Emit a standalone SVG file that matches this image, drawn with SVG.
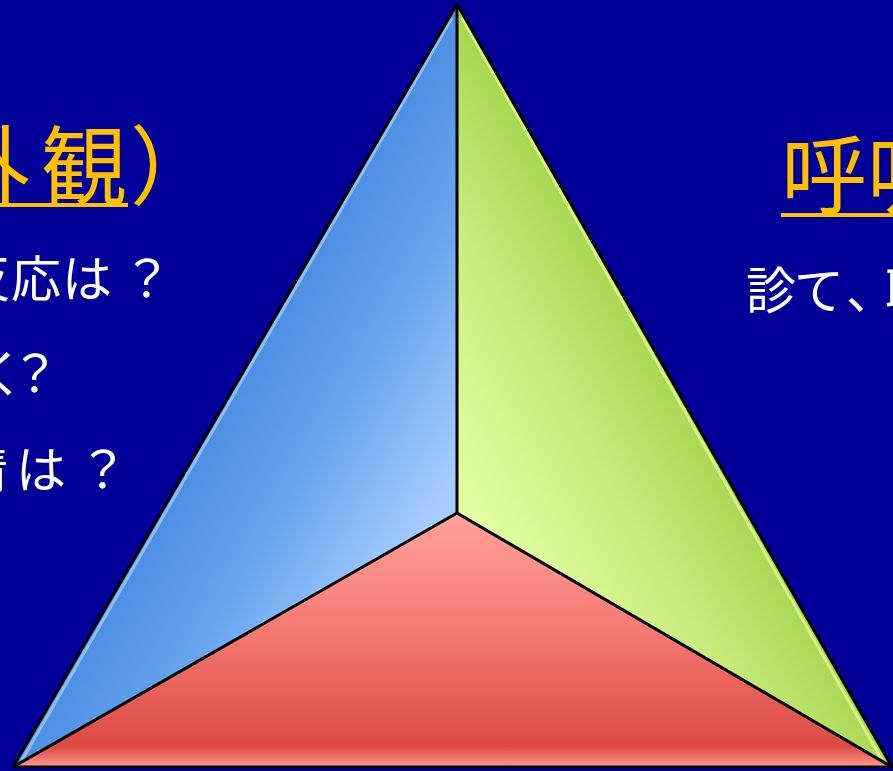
<svg xmlns="http://www.w3.org/2000/svg" width="893" height="771" viewBox="0 0 893 771">
  <style>
    .head { font-family: "Noto Sans CJK JP", "Noto Sans", sans-serif; font-size: 86px; fill: #FFC000; }
    .body { font-family: "Noto Sans CJK JP", "Noto Sans", sans-serif; font-size: 50px; fill: #FFFFFF; }
    .edge { fill: none; stroke: #000000; stroke-width: 3; stroke-linejoin: round; }
    .uline { fill: #FFC000; }
  </style>
  <defs>
    <linearGradient id="gBlue" gradientUnits="userSpaceOnUse" x1="235" y1="385" x2="440" y2="505">
      <stop offset="0" stop-color="#4c8ee2"/>
      <stop offset="0.45" stop-color="#6aa6ee"/>
      <stop offset="1" stop-color="#a8ccff"/>
    </linearGradient>
    <linearGradient id="gGreen" gradientUnits="userSpaceOnUse" x1="675" y1="385" x2="470" y2="505">
      <stop offset="0" stop-color="#a8d852"/>
      <stop offset="0.45" stop-color="#c8ec7e"/>
      <stop offset="1" stop-color="#e2ffa2"/>
    </linearGradient>
    <linearGradient id="gRed" gradientUnits="userSpaceOnUse" x1="457" y1="513" x2="457" y2="767">
      <stop offset="0" stop-color="#ffa29a"/>
      <stop offset="0.5" stop-color="#f2766e"/>
      <stop offset="0.92" stop-color="#dc4a44"/>
      <stop offset="1" stop-color="#ff9a90"/>
    </linearGradient>
  </defs>

  <rect x="0" y="0" width="893" height="771" fill="#000099"/>

  <g id="face-appearance">
    <polygon points="457,4 457,513 13,767" fill="url(#gBlue)"/>
    <line x1="452" y1="18" x2="22" y2="760" stroke="#a8d4ff" stroke-width="3" opacity="0.7"/>
  </g>
  <g id="face-breathing">
    <polygon points="457,4 892,767 457,513" fill="url(#gGreen)"/>
    <line x1="462" y1="18" x2="882" y2="760" stroke="#e8ff9a" stroke-width="3" opacity="0.7"/>
  </g>
  <g id="face-circulation">
    <polygon points="13,767 457,513 892,767" fill="url(#gRed)"/>
  </g>

  <g id="connectors">
    <polygon class="edge" points="457,4 892,767 13,767"/>
    <line class="edge" x1="457" y1="4" x2="457" y2="513"/>
    <line class="edge" x1="457" y1="513" x2="13" y2="767"/>
    <line class="edge" x1="457" y1="513" x2="892" y2="767"/>
  </g>

  <g id="label-appearance">
    <text class="head" x="-56 41 130" y="198">外観）</text>
    <rect class="uline" x="0" y="203" width="128" height="4"/>
    <text class="body" x="-39 11 62 122" y="297">反応は？</text>
    <text class="body" x="-75 -25 10" y="392">泣く？</text>
    <text class="body" x="-92 -42 16 78" y="488">表情は？</text>
  </g>

  <g id="label-breathing">
    <text class="head" x="781" y="207">呼吸</text>
    <rect class="uline" x="781" y="213" width="112" height="4"/>
    <text class="body" x="746 794 846 885" y="309">診て、聴いて</text>
  </g>
</svg>
